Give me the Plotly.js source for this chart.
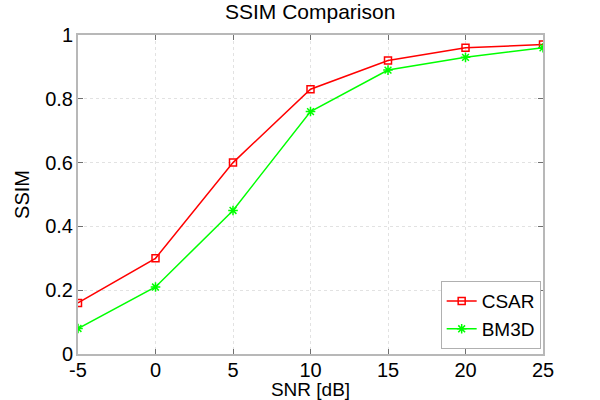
<!DOCTYPE html>
<html>
<head>
<meta charset="utf-8">
<script src="https://cdn.plot.ly/plotly-3.0.1.min.js"></script>
<style>
  html, body { margin: 0; padding: 0; background: #fff; }
  #chart { width: 600px; height: 400px; }
</style>
</head>
<body>
<div id="chart"></div>
<script>
// SNR in dB
var snr = [-5, 0, 5, 10, 15, 20, 25];
var snrLabels = ['-5', '0', '5', '10', '15', '20', '25'];
var ssimTicks = [0, 0.2, 0.4, 0.6, 0.8, 1];
var ssimLabels = ['0', '0.2', '0.4', '0.6', '0.8', '1'];
var csar = [0.16, 0.30, 0.60, 0.83, 0.92, 0.96, 0.97];
var bm3d = [0.08, 0.21, 0.45, 0.76, 0.89, 0.93, 0.96];

var font = 'Liberation Sans, Arial, sans-serif';

var data = [
  {
    x: snr, y: csar, name: 'CSAR', type: 'scatter', mode: 'lines+markers',
    line: { color: '#ff0000', width: 1.5 },
    marker: { symbol: 'square-open', size: 7, color: '#ff0000', line: { width: 1.5 } }
  },
  {
    x: snr, y: bm3d, name: 'BM3D', type: 'scatter', mode: 'lines+markers',
    line: { color: '#00ff00', width: 1.5 },
    marker: { symbol: 'asterisk-open', size: 8, color: '#00ff00', line: { color: '#00ff00', width: 1.5 } }
  }
];

var axisCommon = {
  showline: true, mirror: 'allticks', linecolor: '#b8b8b8', linewidth: 2,
  ticks: 'inside', ticklen: 5, tickcolor: '#707070',
  showgrid: true, gridcolor: '#e2e2e2', griddash: 'dot', gridwidth: 1,
  zeroline: false,
  tickfont: { family: font, size: 20, color: '#000' }
};

var layout = {
  width: 600, height: 400,
  margin: { l: 78, r: 57, t: 35, b: 46 },
  paper_bgcolor: '#fff', plot_bgcolor: '#fff',
  title: {
    text: 'SSIM Comparison', x: 0.517, xanchor: 'center', y: 0.971, yanchor: 'middle',
    font: { family: font, size: 21, color: '#000' }
  },
  xaxis: Object.assign({}, axisCommon, {
    range: [-5, 25], tickvals: snr, ticktext: snrLabels, ticklabelstandoff: -3,
    title: { text: 'SNR [dB]', standoff: 3,
      font: { family: font, size: 19, color: '#000' } }
  }),
  yaxis: Object.assign({}, axisCommon, {
    range: [0, 1], tickvals: ssimTicks, ticktext: ssimLabels, ticklabelstandoff: -1,
    title: { text: 'SSIM', standoff: 10,
      font: { family: font, size: 20, color: '#000' } }
  }),
  legend: {
    x: 0.995, xanchor: 'right', y: 0.015, yanchor: 'bottom',
    bgcolor: '#fff', bordercolor: '#b0b0b0', borderwidth: 1,
    font: { family: font, size: 19, color: '#000' },
    tracegroupgap: 0, itemwidth: 30
  },
  showlegend: true
};

Plotly.newPlot('chart', data, layout, { displayModeBar: false, staticPlot: true });
</script>
</body>
</html>
